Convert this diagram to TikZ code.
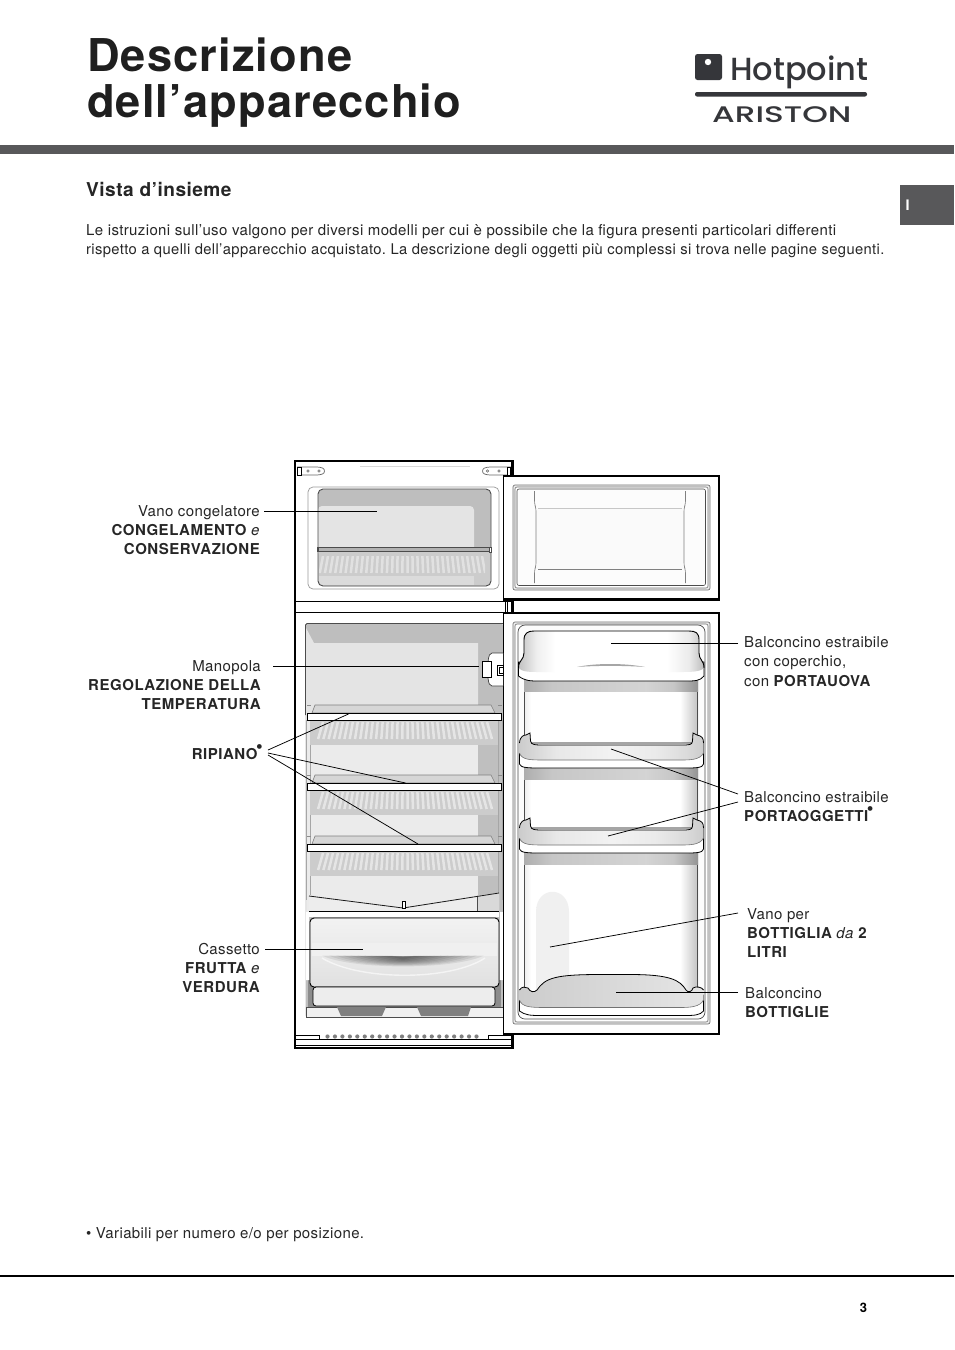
\documentclass[tikz,border=0pt]{standalone}
\usepackage{fontspec}
\setmainfont{TeX Gyre Heros}[LetterSpace=2.5]
\newfontfamily\logofont{Poppins Medium}
\frenchspacing
\definecolor{bargray}{HTML}{58585A}
\definecolor{logogray}{HTML}{35363A}
\definecolor{wallgray}{HTML}{BEBEBE}
\definecolor{walllight}{HTML}{E4E4E4}
\definecolor{glass}{HTML}{CCCCCC}
\pgfdeclarehorizontalshading{bandshade}{100bp}{color(0bp)=(black!32);color(25bp)=(black!32);color(33bp)=(black!22);color(60bp)=(black!17);color(68bp)=(black!22);color(75bp)=(black!42);color(100bp)=(black!42)}
\pgfdeclarehorizontalshading{lidshade}{100bp}{color(0bp)=(black!24);color(25bp)=(black!24);color(30bp)=(black!6);color(35bp)=(white);color(65bp)=(white);color(71bp)=(black!8);color(75bp)=(black!26);color(100bp)=(black!26)}
\pgfdeclarehorizontalshading{frontshade}{100bp}{color(0bp)=(black!20);color(25bp)=(black!20);color(35bp)=(black!9);color(50bp)=(black!5);color(62bp)=(black!8);color(70bp)=(black!14);color(75bp)=(black!20);color(100bp)=(black!20)}
\newcommand{\lb}[1]{{\bfseries\addfontfeature{LetterSpace=3.6}#1}}
\newcommand{\rdot}{\kern-1.5pt\smash{\raisebox{5.5pt}{\fontsize{19}{19}\selectfont •}}}
\tikzset{
 lbl/.style={font=\fontsize{15}{17}\selectfont,inner sep=0pt,text=black!85},
 lbll/.style={lbl,anchor=base west},
 lblr/.style={lbl,anchor=base east},
 leader/.style={draw=black,line width=0.75pt},
 cab/.style={draw=black,line width=1pt},
 cabthick/.style={draw=black,line width=2.6pt},
 shelfbar/.style={fill=white,draw=black,line width=.9pt},
 titlefont/.style={anchor=base west,inner sep=0pt,font=\fontsize{45.2}{50}\selectfont\bfseries,text=black!88},
}
\newcommand{\slats}[2]{%
 \foreach \i in {0,...,33}{%
  \pgfmathsetmacro{\xt}{323+\i*4.97}%
  \pgfmathsetmacro{\xb}{404.5+(\xt-404.5)*1.06}%
  \draw[white,opacity=.5,line width=2.5pt] (\xt,#1) -- (\xb,#2);
 }}
\newcommand{\shelf}[1]{%
 \pgfmathsetmacro{\ya}{#1-8}\pgfmathsetmacro{\yb}{#1+7}%
 \pgfmathsetmacro{\yc}{#1+32}\pgfmathsetmacro{\yd}{#1+9}\pgfmathsetmacro{\ye}{#1+26}%
 \fill[glass] (310,\yb) rectangle (498,\yc);
 \slats{\yd}{\ye}
 \fill[black!16,draw=black!50,line width=.6pt] (312,#1) -- (315,\ya) -- (491,\ya) -- (495,#1) -- cycle;
 \draw[black!45,line width=.7pt] (307,\ya) -- (311,\ya) (498,\ya) -- (502,\ya);
 \fill[shelfbar] (307,#1) rectangle (501,\yb);
}
\newcommand{\balc}[1]{%
 \pgfmathsetmacro{\yf}{#1+35}\pgfmathsetmacro{\yg}{#1+46}\pgfmathsetmacro{\yh}{#1+27}%
 \pgfmathsetmacro{\ytab}{#1+12}\pgfmathsetmacro{\yk}{#1+8}\pgfmathsetmacro{\ym}{#1+10}\pgfmathsetmacro{\yn}{#1+20}%
 \pgfmathsetmacro{\yo}{#1+31}%
 \shade[shading=bandshade] (524,\yf) rectangle (698,\yg);
 \fill[white,draw=black,line width=.8pt] (519.5,\ym) -- (519.5,\yo) .. controls (520,\yf) and (530,\yf) .. (540,\yf) -- (685,\yf) .. controls (695,\yf) and (703,\yf) .. (703.5,\yo) -- (703.5,\ym) -- cycle;
 \shade[shading=frontshade] (519.5,\ym) .. controls (520,#1+3) and (524,#1+2) .. (526,#1+2) -- (530,#1) -- (530.5,\yk) .. controls (531,\ytab) and (535,\ytab) .. (545,\ytab) -- (680,\ytab) .. controls (690,\ytab) and (692,\ytab) .. (692.5,\yk) -- (693,#1) -- (697,#1+2) .. controls (702,#1+3) and (703.5,#1+5) .. (703.5,\ym) -- (703.5,\yn) .. controls (700,\yh) and (690,\yh) .. (680,\yh) -- (545,\yh) .. controls (530,\yh) and (522,\yh) .. (519.5,\yn) -- cycle;
 \draw[black,line width=.8pt] (519.5,\ym) .. controls (520,#1+3) and (524,#1+2) .. (526,#1+2) -- (530,#1) -- (530.5,\yk) .. controls (531,\ytab) and (535,\ytab) .. (545,\ytab) -- (680,\ytab) .. controls (690,\ytab) and (692,\ytab) .. (692.5,\yk) -- (693,#1) -- (697,#1+2) .. controls (702,#1+3) and (703.5,#1+5) .. (703.5,\ym);
 \draw[black!55,line width=.6pt] (519.5,\yn) .. controls (522,\yh) and (530,\yh) .. (545,\yh) -- (680,\yh) .. controls (690,\yh) and (700,\yh) .. (703.5,\yn);
}
\begin{document}
\begin{tikzpicture}[x=1pt,y=-1pt]
\useasboundingbox (0,0) rectangle (954,1350);
\fill[white] (0,0) rectangle (954,1350);

% header
\node[titlefont] (t1) at (87,71) {Descrizione};
\node[titlefont] (t2) at (87,117.5) {dell’apparecchio};
\fill[bargray] (0,145) rectangle (954,154);
\fill[bargray] (900,185) rectangle (954,225);
\node[anchor=base west,inner sep=0pt,font=\fontsize{14.5}{15}\selectfont\bfseries,text=white] (tabI) at (905.5,210) {I};
% logo
\fill[logogray,rounded corners=2.5pt] (695,54) rectangle (722,80);
\fill[white] (708,62) circle (3.2);
\node[anchor=base west,inner sep=0pt,text=logogray,font=\logofont\fontsize{32}{36}\selectfont] (hp) at (730,80) {Hotpoint};
\fill[logogray,rounded corners=2pt] (695,92) rectangle (867,96.5);
\node[anchor=base west,inner sep=0pt,text=logogray,font=\logofont\fontsize{22.5}{24}\selectfont] (ar) at (712,122) {\scalebox{1.45}[1]{ARISTON}};

% intro
\node[anchor=base west,inner sep=0pt,font=\fontsize{19.1}{21}\selectfont\bfseries,text=black!85] (vista) at (86,196) {Vista d’insieme};
\node[lbll] (p1) at (86,235) {Le istruzioni sull’uso valgono per diversi modelli per cui è possibile che la figura presenti particolari differenti};
\node[lbll,font=\fontsize{14.75}{17}\selectfont] (p2) at (86,254) {rispetto a quelli dell’apparecchio acquistato. La descrizione degli oggetti più complessi si trova nelle pagine seguenti.};

% cabinet interior: freezer
\draw[black!40,line width=.7pt,rounded corners=5pt] (308,487) rectangle (499,589);
\fill[wallgray,rounded corners=5pt] (318,489) rectangle (491,586);
\fill[walllight,rounded corners=4pt] (318,506) -- (474,506) -- (474,560) -- (318,560) -- cycle;
\fill[glass,rounded corners=4pt] (318,551) rectangle (491,586);
\fill[black!14] (319,576) rectangle (474,585);
\begin{scope}
\clip (319,556) rectangle (485,573);
\foreach \i in {0,...,33}{\pgfmathsetmacro{\xt}{323+\i*4.97}\pgfmathsetmacro{\xb}{404.5+(\xt-404.5)*1.04}\draw[white,opacity=.42,line width=2.5pt] (\xt,556) -- (\xb,573);}
\end{scope}
\draw[black!70,line width=.9pt,rounded corners=5pt] (318,489) rectangle (491,586);
\fill[black!30,draw=black!70,line width=.7pt] (318,547.5) rectangle (491,551.5);
\fill[black!70] (317,547) rectangle (319,552);
\fill[white,draw=black!70,line width=.5pt] (489.5,547) rectangle (491,552);

% hinges
\draw[black!60,line width=.7pt,rounded corners=3pt] (297,467) -- (320,467) .. controls (325,469) and (325,473) .. (320,475) -- (297,475);
\draw[black,line width=.9pt,fill=white] (297.5,467) rectangle (301,475.5);
\draw[black!60,line width=.6pt] (308,471) circle (1.3) (319,471) circle (1.3);
\draw[black!60,line width=.7pt,rounded corners=3pt] (511,467) -- (487,467) .. controls (482,469) and (482,473) .. (487,475) -- (511,475);
\draw[black,line width=.9pt,fill=white] (507,467) rectangle (510.5,475.5);
\draw[black!60,line width=.6pt] (487.5,471) circle (1.3) (499,471) circle (1.3);

% fridge compartment
\fill[wallgray,rounded corners=2pt] (305.5,623.5) rectangle (503,1017);
\fill[walllight] (305.5,627) -- (314,643) -- (478,643) -- (478,915) -- (305.5,915) -- cycle;
\draw[black!70,line width=.9pt] (503,623.5) -- (307,623.5) -- (305.5,625) -- (305.5,715);
\fill[black!8] (307,720) rectangle (478,915);
\fill[black!25] (478,720) rectangle (503,915);
\draw[black!35,line width=.7pt] (310,720) -- (310,895) (498,720) -- (498,895);
\draw[black!35,line width=.7pt] (306,720) -- (306,900) (502,720) -- (502,900);

\shelf{713}
\shelf{783}
\shelf{844}

% crisper top
\fill[black!7] (309,896) -- (403,908) -- (499,893) -- (499,912) -- (309,912) -- cycle;
\fill[black!15] (477,895.5) -- (499,893) -- (499,911) -- (477,911) -- cycle;
\draw[black!70,line width=.6pt] (477,895.5) -- (477,911);
\draw[black!90,line width=.8pt] (309,896) -- (403,908) -- (499,893);
\fill[white] (309,912) rectangle (499,917);
\draw[black,line width=.8pt] (309,911.5) -- (499,911.5);
\draw[black,fill=white,line width=.7pt] (402.5,901) rectangle (405.5,908.5);

% drawer surround
\fill[black!45] (308,980) rectangle (501,1007);
\fill[white] (306,912) rectangle (309,980) (500,912) rectangle (503,980);
\shade[top color=black!5,bottom color=black!12,draw=black,line width=.9pt,rounded corners=4pt] (310,918) rectangle (499,987);
\shade[left color=black!6,middle color=black!14,right color=black!6] (312,943) rectangle (497,955);
\foreach \k in {0,...,9}{%
 \pgfmathsetmacro{\xa}{322+\k*7}\pgfmathsetmacro{\xc}{484-\k*7}\pgfmathsetmacro{\yz}{970-\k*1}%
 \fill[black,opacity=.075] (\xa,955.5) .. controls (\xa+35,956.5) and (\xc-35,956.5) .. (\xc,955.5) .. controls (\xc-30,\yz) and (\xa+30,\yz) .. (\xa,955.5) -- cycle;
}
\draw[white,line width=1.4pt,opacity=.6] (322,958) .. controls (360,981) and (450,981) .. (485,958);
\fill[black!7,draw=black,line width=.8pt,rounded corners=3pt] (313,987) rectangle (495,1006);
% bottom bar
\fill[black!6,draw=black!70,line width=.8pt] (306,1007) rectangle (503,1017);
\fill[black!50] (337,1007) -- (386,1007) -- (382,1016) -- (341,1016) -- cycle;
\fill[black!50] (417,1007) -- (471,1007) -- (468,1016) -- (421,1016) -- cycle;

% vents
\draw[black,line width=1pt] (296,1035.5) -- (319.5,1035.5) -- (319.5,1039);
\draw[black,line width=1pt] (511,1035.5) -- (488.5,1035.5) -- (488.5,1039);
\foreach \i in {0,...,20}{\fill[black!50] (327.5+\i*7.45,1036.5) circle (2.1);}

% cabinet lines
\draw[cab] (295,601) -- (503,601) (295,612) -- (503,612) (295,1039.5) -- (512,1039.5) (295,1045) -- (512,1045);
\draw[black,line width=.7pt] (503,601) -- (512,601) (503,612) -- (512,612) (505.5,601) -- (505.5,612) (507.5,601) -- (507.5,612);
\draw[cabthick] (295,461) rectangle (512.5,1048);
\draw[black!15,line width=.7pt] (360,466.5) -- (470,466.5);

% freezer door
\fill[white] (503,476) rectangle (719,600);
\draw[black!55,line width=.7pt,rounded corners=2pt,fill=black!8] (513,485) rectangle (710,590);
\draw[black!55,line width=.6pt,rounded corners=2pt,fill=white] (515,487) rectangle (708,588);
\draw[black!70,line width=.6pt,rounded corners=2pt,fill=black!1] (517,489) rectangle (705.5,585.5);
\fill[black!2] (536,508) rectangle (684,569);
\draw[black!50,line width=.6pt,rounded corners=3pt] (534.5,491) -- (534.5,504) -- (536,508) -- (536,566) -- (534.5,570) -- (534.5,583);
\draw[black!50,line width=.6pt,rounded corners=3pt] (685.5,491) -- (685.5,504) -- (684,508) -- (684,566) -- (685.5,570) -- (685.5,583);
\draw[black!22,line width=.9pt] (538,508) -- (682,508);
\draw[black!50,line width=.6pt] (538,569) -- (682,569);
\draw[black,line width=.9pt] (503.5,476) -- (503.5,600);
\draw[black,line width=2.6pt] (503,476) -- (719,476) -- (719,599.5) -- (503,599.5);

% fridge door
\fill[white] (503,613) rectangle (719,1034);
\draw[black!55,line width=.7pt,rounded corners=2pt,fill=black!8] (513,622) rectangle (710,1024);
\draw[black!55,line width=.6pt,rounded corners=2pt,fill=white] (515,624) rectangle (708,1022);
\draw[black!70,line width=.7pt,rounded corners=7pt,fill=black!1] (518,625) rectangle (705,1019);
\fill[white] (524,680) rectangle (698,1015);
\shade[left color=white,right color=black!24] (680,680) rectangle (698,1000);
\shade[left color=black!6,right color=white] (525,680) rectangle (531,1000);
\draw[black!70,line width=1.2pt] (524.5,675) -- (524.5,1000) (697.5,675) -- (697.5,1000);

% gray band below lid
\shade[shading=bandshade] (524,680) rectangle (698,691);
% lid
\fill[white,draw=black,line width=.8pt] (518.5,662) -- (518.5,676) .. controls (525,681) and (530,681) .. (540,681) -- (685,681) .. controls (695,681) and (700,681) .. (704,676) -- (704,662) -- cycle;
\shade[shading=lidshade] (518.5,668) .. controls (518.5,660) and (524,660) .. (524,653) -- (524,640) .. controls (524,633) and (528,631) .. (534,631) -- (689,631) .. controls (696,631) and (699,633) .. (699,640) -- (699,653) .. controls (699,660) and (704,660) .. (704,668) .. controls (700,672) and (690,672) .. (680,672) -- (540,672) .. controls (530,672) and (522,672) .. (518.5,668) -- cycle;
\draw[black,line width=.9pt] (518.5,668) .. controls (518.5,660) and (524,660) .. (524,653) -- (524,640) .. controls (524,633) and (528,631) .. (534,631) -- (689,631) .. controls (696,631) and (699,633) .. (699,640) -- (699,653) .. controls (699,660) and (704,660) .. (704,668);
\fill[black!35] (577,667) .. controls (595,663) and (625,663) .. (645,667) .. controls (625,665.5) and (595,665.5) .. (577,667) -- cycle;

\balc{733}
\balc{818}

% bottle compartment
\shade[left color=black!6,middle color=black!2,right color=black!6] (536,992) -- (536,912) .. controls (536,885) and (569,885) .. (569,912) -- (569,992) -- cycle;

% bottom balcony
\fill[white,draw=black,line width=.8pt] (519.5,995) -- (519.5,1011) .. controls (525,1015) and (530,1015.5) .. (540,1015.5) -- (685,1015.5) .. controls (695,1015.5) and (700,1015) .. (703.5,1011) -- (703.5,995) -- cycle;
\shade[left color=black!20,middle color=black!12,right color=black!10] (519.5,990) .. controls (522,986) and (525,987) .. (528,988) .. controls (530,992) and (534,993) .. (537,990) .. controls (545,978) and (555,974.5) .. (600,974.5) -- (630,974.5) .. controls (670,974.5) and (680,980) .. (686,990) .. controls (688,993) and (692,992) .. (693,988) .. controls (696,986) and (702,987) .. (703.5,990) -- (703.5,1000) .. controls (700,1007) and (690,1007.5) .. (680,1007.5) -- (545,1007.5) .. controls (530,1007.5) and (522,1007) .. (519.5,1000) -- cycle;
\draw[black,line width=.8pt] (519.5,990) .. controls (522,986) and (525,987) .. (528,988) .. controls (530,992) and (534,993) .. (537,990) .. controls (545,978) and (555,974.5) .. (600,974.5) -- (630,974.5) .. controls (670,974.5) and (680,980) .. (686,990) .. controls (688,993) and (692,992) .. (693,988) .. controls (696,986) and (702,987) .. (703.5,990);
\draw[black!55,line width=.6pt] (519.5,1000) .. controls (522,1007) and (530,1007.5) .. (545,1007.5) -- (680,1007.5) .. controls (690,1007.5) and (700,1007) .. (703.5,1000);
\draw[black,line width=2.6pt] (503,613) -- (719,613) -- (719,1034) -- (503,1034);
\draw[black,line width=.9pt] (503.5,613) -- (503.5,1034);

% knob
\fill[white,draw=black!75,line width=.7pt,rounded corners=2pt] (503,653) -- (490,653) -- (488,660) -- (488,680) -- (490,686) -- (503,686);
\draw[black,fill=white,line width=.9pt] (482.5,661) rectangle (491,677);
\draw[black,fill=white,line width=.9pt] (497,665) rectangle (503,675);
\draw[black,line width=.7pt] (499,667) rectangle (503,673);

% labels left
\node[lblr] (l1a) at (260,516) {Vano congelatore};
\node[lblr] (l1b) at (260,535) {\lb{CONGELAMENTO} \textit{e}};
\node[lblr] (l1c) at (260,554) {\lb{CONSERVAZIONE}};
\node[lblr] (l2a) at (261,671) {Manopola};
\node[lblr] (l2b) at (261,690) {\lb{REGOLAZIONE DELLA}};
\node[lblr] (l2c) at (261,709) {\lb{TEMPERATURA}};
\node[lblr] (l3) at (263,759) {\lb{RIPIANO}\rdot};
\node[lblr] (l4a) at (260,954) {Cassetto};
\node[lblr] (l4b) at (260,973) {\lb{FRUTTA} \textit{e}};
\node[lblr] (l4c) at (260,992) {\lb{VERDURA}};
% labels right
\node[lbll] (r1a) at (744,647) {Balconcino estraibile};
\node[lbll] (r1b) at (744,666) {con coperchio,};
\node[lbll] (r1c) at (744,686) {con \lb{PORTAUOVA}};
\node[lbll] (r2a) at (744,802) {Balconcino estraibile};
\node[lbll] (r2b) at (744,821) {\lb{PORTAOGGETTI}\rdot};
\node[lbll] (r3a) at (747,919) {Vano per};
\node[lbll] (r3b) at (747,938) {\lb{BOTTIGLIA} \textit{da} \lb{2}};
\node[lbll] (r3c) at (747,957) {\lb{LITRI}};
\node[lbll] (r4a) at (745,998) {Balconcino};
\node[lbll] (r4b) at (745,1017) {\lb{BOTTIGLIE}};

% leader ends
\coordinate (e1a) at (264,511); \coordinate (e1b) at (377,511);
\coordinate (e2a) at (273,666); \coordinate (e2b) at (479,666);
\coordinate (e3) at (268,750); \coordinate (e3a) at (348.5,714); \coordinate (e3b) at (405.5,783); \coordinate (e3c) at (418,844);
\coordinate (e3d) at (268,753); \coordinate (e3e) at (268,755);
\coordinate (e4a) at (265,949); \coordinate (e4b) at (363,949);
\coordinate (e5a) at (738,643); \coordinate (e5b) at (611,643);
\coordinate (e6a) at (738,794); \coordinate (e6b) at (611,749);
\coordinate (e6c) at (738,802); \coordinate (e6d) at (608,836);
\coordinate (e7a) at (738,913); \coordinate (e7b) at (550,947);
\coordinate (e8a) at (738,992); \coordinate (e8b) at (616,992);
\draw[leader] (e1a) -- (e1b);
\draw[leader] (e2a) -- (e2b);
\draw[leader] (e3) -- (e3a);
\draw[leader] (e3d) -- (e3b);
\draw[leader] (e3e) -- (e3c);
\draw[leader] (e4a) -- (e4b);
\draw[leader] (e5a) -- (e5b);
\draw[leader] (e6a) -- (e6b);
\draw[leader] (e6c) -- (e6d);
\draw[leader] (e7a) -- (e7b);
\draw[leader] (e8a) -- (e8b);

% footer
\node[lbll] (foot) at (86,1238) {• Variabili per numero e/o per posizione.};
\draw[black,line width=1.6pt] (0,1276) -- (954,1276);
\node[anchor=base,inner sep=0pt,font=\fontsize{13}{15}\selectfont\bfseries] (pg) at (863.5,1312) {3};
\end{tikzpicture}
\end{document}
